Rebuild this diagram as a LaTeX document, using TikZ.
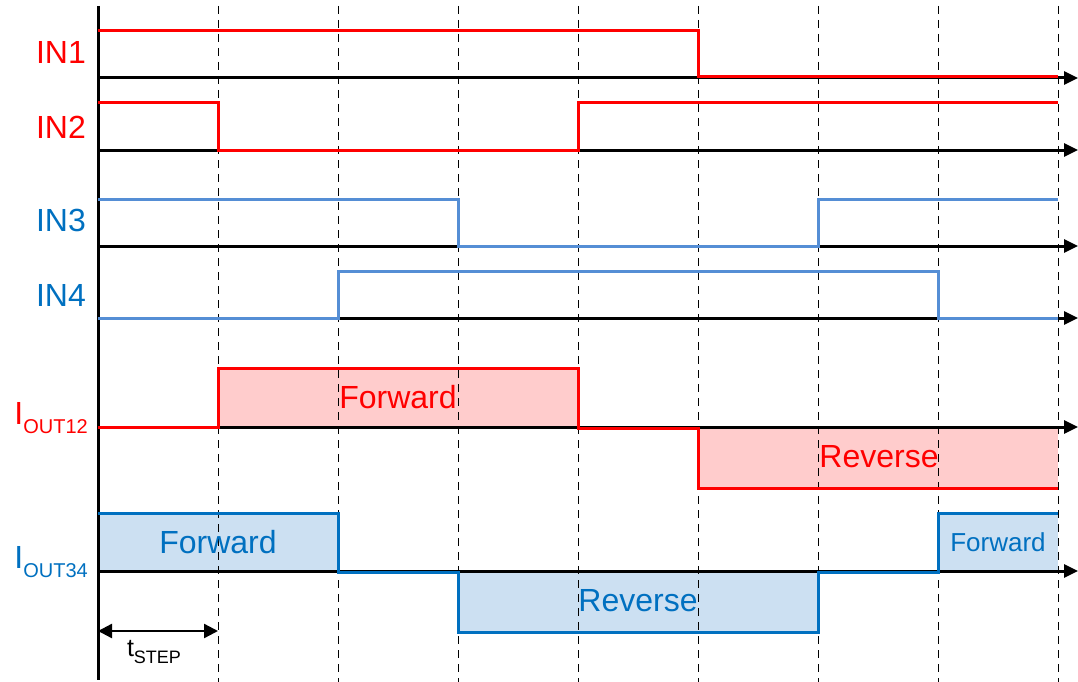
\documentclass[tikz,border=0pt]{standalone}
\usepackage{fontspec}
\setmainfont{Liberation Sans}
\usetikzlibrary{arrows.meta}
\definecolor{sigred}{RGB}{255,0,0}
\definecolor{sigblue}{RGB}{0,112,192}
\definecolor{inblue}{RGB}{85,142,213}
\definecolor{redfill}{RGB}{255,204,204}
\definecolor{bluefill}{RGB}{204,224,242}
\newcommand{\bigtxt}{\fontsize{32}{34}\selectfont}
\newcommand{\subtxt}[1]{\raisebox{-0.3em}{\fontsize{20}{22}\selectfont #1}}
\begin{document}
\begin{tikzpicture}[x=1pt,y=-1pt,
  axis/.style={line width=3pt,-{Triangle[length=14pt,width=13pt]}},
  gridline/.style={line width=1pt,dash pattern=on 8pt off 6pt},
  wave/.style={line width=3pt},
  sig/.style={font=\bigtxt,inner sep=0pt,anchor=east},
  boxtxt/.style={font=\bigtxt,inner sep=0pt}]
\useasboundingbox (0,0) rectangle (1078,682);

% current boxes
\fill[redfill] (218,368) rectangle (578,427);
\fill[redfill] (698,427) rectangle (1058,488);
\fill[bluefill] (98,513) rectangle (338,571);
\fill[bluefill] (458,571) rectangle (818,632);
\fill[bluefill] (938,513) rectangle (1058,571);

% time steps
\foreach \x in {218,338,...,1058}
  \draw[gridline] (\x,6) -- (\x,682);

% axes
\coordinate (top) at (98,6);
\coordinate (bot) at (98,680);
\draw[line width=3pt] (top) -- (bot);
\foreach \n/\y in {a1/78,a2/150,a3/246,a4/318,a5/427,a6/571}{
  \coordinate (\n s) at (98,\y);
  \coordinate (\n e) at (1078,\y);
  \draw[axis] (\n s) -- (\n e);
}

% inputs
\draw[wave,sigred] (98,31) -- (698,31) -- (698,77) -- (1058,77);
\draw[wave,sigred] (98,103) -- (218,103) -- (218,150) -- (578,150) -- (578,103) -- (1058,103);
\draw[wave,inblue] (98,199) -- (458,199) -- (458,246) -- (818,246) -- (818,199) -- (1058,199);
\draw[wave,inblue] (98,318) -- (338,318) -- (338,271) -- (938,271) -- (938,318) -- (1058,318);

% outputs
\draw[wave,sigred] (98,427) -- (218,427) -- (218,368) -- (578,368) -- (578,428) -- (698,428) -- (698,488) -- (1058,488);
\draw[wave,sigblue] (98,513) -- (338,513) -- (338,572) -- (458,572) -- (458,632) -- (818,632) -- (818,572) -- (938,572) -- (938,513) -- (1058,513);

% labels
\node[sig,text=sigred] (in1) at (86,52) {IN1};
\node[sig,text=sigred] (in2) at (86,127) {IN2};
\node[sig,text=sigblue] (in3) at (86,220) {IN3};
\node[sig,text=sigblue] (in4) at (86,295) {IN4};
\node[sig,text=sigred] (iout12) at (88,418) {I\subtxt{OUT12}};
\node[sig,text=sigblue] (iout34) at (88,562) {I\subtxt{OUT34}};

\node[boxtxt,text=sigred] (fwd12) at (398,397) {Forward};
\node[boxtxt,text=sigred] (rev12) at (879,457) {Reverse};
\node[boxtxt,text=sigblue] (fwd34) at (218,542) {Forward};
\node[boxtxt,text=sigblue] (rev34) at (638,601) {Reverse};
\node[boxtxt,text=sigblue,font=\fontsize{26}{28}\selectfont] (fwd34b) at (998,542) {Forward};

% step width
\coordinate (ts) at (98,631);
\coordinate (te) at (218,631);
\draw[line width=2.4pt,{Triangle[length=14pt,width=14pt]}-{Triangle[length=14pt,width=14pt]}] (ts) -- (te);
\node[inner sep=0pt,font=\fontsize{25}{27}\selectfont] (tstep) at (154,652) {t\raisebox{-0.25em}{\fontsize{18}{20}\selectfont STEP}};
\end{tikzpicture}
\end{document}
